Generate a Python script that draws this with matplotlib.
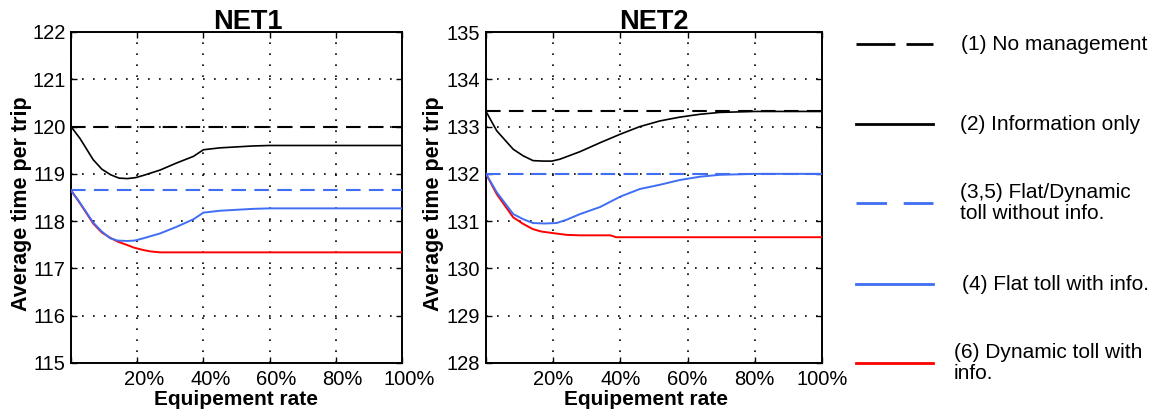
import matplotlib
matplotlib.use("Agg")
import matplotlib.pyplot as plt
import matplotlib.transforms as mtransforms
from matplotlib.lines import Line2D

plt.rcParams['font.family'] = ['Liberation Sans', 'DejaVu Sans']

# ---------------- data ----------------
# NET1
net1_no_mgmt = 120.0
net1_flat_no_info = 118.65
net1_info_x = [0, 2.7, 6.7, 9.3, 12, 14.5, 17, 19.5, 22, 26.9, 31.9, 37, 40, 45, 50, 55, 60, 70, 80, 90, 100]
net1_info_y = [120.0, 119.75, 119.3, 119.1, 118.98, 118.91, 118.90, 118.92, 118.97, 119.08, 119.23, 119.37, 119.51, 119.55, 119.57, 119.59, 119.6, 119.6, 119.6, 119.6, 119.6]
net1_flat_x = [0, 2.7, 6.7, 9.3, 11.8, 14, 17, 19.3, 22, 26.9, 31.9, 37, 40, 45, 50, 55, 60, 70, 80, 90, 100]
net1_flat_y = [118.65, 118.39, 117.97, 117.78, 117.64, 117.59, 117.58, 117.59, 117.64, 117.74, 117.88, 118.04, 118.18, 118.22, 118.24, 118.26, 118.27, 118.27, 118.27, 118.27, 118.27]
net1_dyn_x = [0, 2.7, 6.7, 9.3, 11.8, 14, 16.8, 19, 21.8, 24, 26.9, 30, 40, 60, 80, 100]
net1_dyn_y = [118.65, 118.38, 117.95, 117.76, 117.65, 117.57, 117.5, 117.44, 117.39, 117.36, 117.34, 117.34, 117.34, 117.34, 117.34, 117.34]

# NET2
net2_no_mgmt = 133.32
net2_flat_no_info = 132.0
net2_info_x = [0, 3.2, 8.1, 11.1, 14, 17, 19.6, 22, 28, 34, 40, 45.8, 51.8, 57.7, 63.7, 69.6, 75, 80, 90, 100]
net2_info_y = [133.32, 132.91, 132.52, 132.38, 132.28, 132.27, 132.27, 132.31, 132.47, 132.66, 132.84, 133.0, 133.12, 133.2, 133.26, 133.3, 133.31, 133.32, 133.32, 133.32]
net2_flat_x = [0, 3.2, 8.1, 11.1, 14, 17.5, 21, 24, 28, 34, 40, 45.8, 51.8, 57.7, 63.7, 69.6, 75, 80, 90, 100]
net2_flat_y = [132.0, 131.61, 131.15, 131.04, 130.96, 130.95, 130.96, 131.03, 131.15, 131.3, 131.52, 131.68, 131.77, 131.87, 131.94, 131.98, 131.99, 132.0, 132.0, 132.0]
net2_dyn_x = [0, 3.2, 8.1, 11.1, 14, 16.5, 19.6, 24, 28, 37, 38.7, 50, 70, 100]
net2_dyn_y = [132.0, 131.57, 131.08, 130.94, 130.83, 130.78, 130.75, 130.71, 130.7, 130.7, 130.66, 130.66, 130.66, 130.66]

x_ticks = [0, 20, 40, 60, 80, 100]
x_tick_labels = ['', '20%', '40%', '60%', '80%', '100%']
net1_yticks = [115, 116, 117, 118, 119, 120, 121, 122]
net2_yticks = [128, 129, 130, 131, 132, 133, 134, 135]

legend_labels = ['(1) No management', '(2) Information only',
                 '(3,5) Flat/Dynamic\ntoll without info.',
                 '(4) Flat toll with info.', '(6) Dynamic toll with\ninfo.']

BLUE = '#3f6ef5'
RED = '#ff0000'
W, H = 1156, 412

fig = plt.figure(figsize=(W / 100, H / 100), dpi=100)


def px_axes(l, t, r, b):
    return fig.add_axes([l / W, (H - b) / H, (r - l) / W, (b - t) / H])


def style_axes(ax, yticks, xshift_px=0):
    ax.set_xlim(0, 100)
    ax.set_ylim(yticks[0], yticks[-1])
    ax.set_xticks(x_ticks)
    ax.set_xticklabels(x_tick_labels)
    ax.set_yticks(yticks)
    ax.tick_params(direction='in', length=4, width=1, top=True, right=True,
                   labelsize=14.5, pad=5)
    ax.tick_params(axis='y', pad=4)
    for s in ax.spines.values():
        s.set_linewidth(1.4)
    ax.grid(True, color='black', linestyle=(0, (1, 5.6)), linewidth=1.2)
    if xshift_px:
        off = mtransforms.ScaledTranslation(xshift_px / 100, 0, fig.dpi_scale_trans)
        for lab in ax.get_xticklabels():
            lab.set_transform(lab.get_transform() + off)


def draw(ax, no_mgmt, flat_no_info, ix, iy, fx, fy, dx, dy):
    ax.axhline(no_mgmt, color='black', linestyle=(0, (7, 4)), linewidth=1.5, zorder=3)
    ax.plot(ix, iy, color='black', linewidth=1.2, zorder=3)
    ax.axhline(flat_no_info, color=BLUE, linestyle=(0, (7, 4)), linewidth=1.5, zorder=3)
    ax.plot(dx, dy, color=RED, linewidth=1.4, zorder=3)
    ax.plot(fx, fy, color=BLUE, linewidth=1.4, zorder=4)


ax1 = px_axes(71, 32, 402, 363)
style_axes(ax1, net1_yticks, xshift_px=7)
draw(ax1, net1_no_mgmt, net1_flat_no_info, net1_info_x, net1_info_y,
     net1_flat_x, net1_flat_y, net1_dyn_x, net1_dyn_y)
ax1.text(0.535, 1.0 + 3 / 331, 'NET1', transform=ax1.transAxes, ha='center',
         va='baseline', fontsize=19.5, fontweight='bold')
ax1.text(0.5, (363 - 405) / 331, 'Equipement rate', transform=ax1.transAxes,
         ha='center', va='baseline', fontsize=15, fontweight='bold')
ax1.text((22 - 71) / 331, (363 - 204) / 331, 'Average time per trip', transform=ax1.transAxes,
         ha='center', va='center', rotation=90, fontsize=15.5, fontweight='bold')

ax2 = px_axes(486, 32, 822, 363)
style_axes(ax2, net2_yticks)
draw(ax2, net2_no_mgmt, net2_flat_no_info, net2_info_x, net2_info_y,
     net2_flat_x, net2_flat_y, net2_dyn_x, net2_dyn_y)
ax2.text(0.5, 1.0 + 3 / 331, 'NET2', transform=ax2.transAxes, ha='center',
         va='baseline', fontsize=19.5, fontweight='bold')
ax2.text((646 - 486) / 336, (363 - 405) / 331, 'Equipement rate', transform=ax2.transAxes,
         ha='center', va='baseline', fontsize=15, fontweight='bold')
ax2.text((433 - 486) / 336, (363 - 204) / 331, 'Average time per trip', transform=ax2.transAxes,
         ha='center', va='center', rotation=90, fontsize=15.5, fontweight='bold')

# ---------------- legend (drawn in pixel space) ----------------
lax = fig.add_axes([0, 0, 1, 1])
lax.set_xlim(0, W)
lax.set_ylim(H, 0)
lax.axis('off')
leg_y = [44, 124, 203, 284, 363]
leg_text_x = [961, 960, 960, 962, 954]
leg_styles = [('black', (0, (14, 4))), ('black', '-'), (BLUE, (0, (11, 6))), (BLUE, '-'), (RED, '-')]
for yy, tx, (c, ls), lab in zip(leg_y, leg_text_x, leg_styles, legend_labels):
    lax.add_line(Line2D([856, 933], [yy, yy], color=c, linestyle=ls, linewidth=2.0))
    lax.text(tx, yy, lab, ha='left', va='center', fontsize=15, linespacing=1.1)

fig.savefig('out.png', dpi=100)
